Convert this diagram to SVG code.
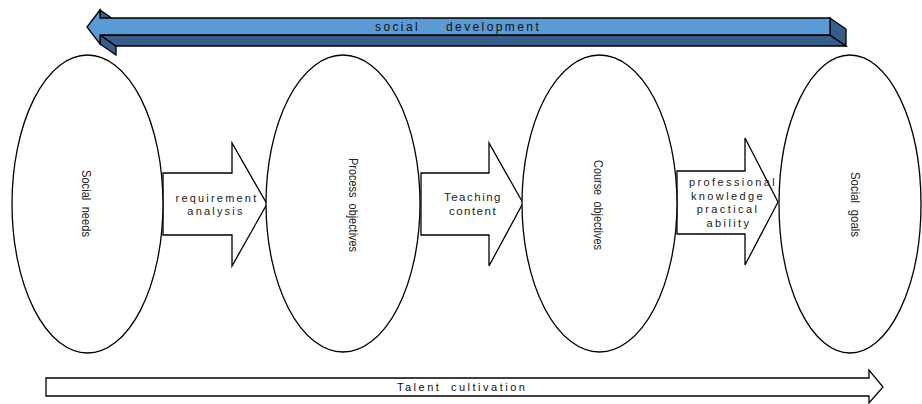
<svg xmlns="http://www.w3.org/2000/svg" width="922" height="404" viewBox="0 0 922 404">
  <style>
    .ln { stroke: #000; stroke-width: 1.3; stroke-linejoin: miter; }
    .front { fill: #5B9BD5; }
    .dark { fill: #385D8A; }
    .node { fill: #fff; stroke: #000; stroke-width: 1.3; }
    .blk { fill: #fff; stroke: #000; stroke-width: 1.3; }
    .lbl { font-family: "Liberation Sans", Arial, sans-serif; font-size: 11px; fill: #222; text-anchor: middle; letter-spacing: 2.2px; }
    .vt { font-family: "Liberation Sans", Arial, sans-serif; font-size: 13.5px; fill: #222; text-anchor: middle; dominant-baseline: central; }
    .band { font-family: "Liberation Sans", Arial, sans-serif; font-size: 12px; fill: #111; letter-spacing: 2.4px; }
  </style>

  <!-- 3D band arrow across the top -->
  <g id="social-development">
    <polygon class="dark ln" points="100,10 100,18 116,29 116,21"/>
    <polygon class="dark ln" points="100,35 100,44 116,55 116,46"/>
    <polygon class="dark ln" points="100,35 830,35 846,46 116,46"/>
    <polygon class="dark ln" points="830,18 846,29 846,46 830,35"/>
    <polygon class="front ln" points="87,27 100,10 100,18 830,18 830,35 100,35 100,44"/>
    <text class="band" y="31"><tspan x="375">social</tspan><tspan x="446">development</tspan></text>
  </g>

  <!-- connectors: block arrows between the stages -->
  <g id="connectors">
    <g id="arrow-requirement">
      <polygon class="blk" points="163,173 232,173 232,143 267,204 232,266 232,235 163,235"/>
      <text class="lbl" x="217" y="201.5">requirement</text>
      <text class="lbl" x="216" y="215">analysis</text>
    </g>
    <g id="arrow-teaching">
      <polygon class="blk" points="421,173 489,173 489,143 523,203 489,266 489,235 421,235"/>
      <text class="lbl" x="473" y="200.5" style="letter-spacing:1.5px;font-size:11.5px">Teaching</text>
      <text class="lbl" x="473" y="215" style="letter-spacing:1.5px;font-size:11.5px">content</text>
    </g>
    <g id="arrow-ability">
      <polygon class="blk" points="677,171 745,171 745,138 778,202 745,265 745,234 677,234"/>
      <text class="lbl" x="733" y="186" style="letter-spacing:2.4px">professional</text>
      <text class="lbl" x="728" y="199.5" style="letter-spacing:2.4px">knowledge</text>
      <text class="lbl" x="728" y="213" style="letter-spacing:2.4px">practical</text>
      <text class="lbl" x="729" y="226.5" style="letter-spacing:2.4px">ability</text>
    </g>
    <g id="arrow-talent">
      <polygon class="blk" points="46,378 869,378 869,370 883,387 869,403 869,396 46,396"/>
      <text class="band" y="391" style="font-size:11px;letter-spacing:2.5px"><tspan x="397">Talent</tspan><tspan x="451">cultivation</tspan></text>
    </g>
  </g>

  <!-- stage nodes -->
  <g id="social-needs">
    <ellipse class="node" cx="87.5" cy="204" rx="75.5" ry="149"/>
    <text class="vt" transform="translate(86,203.5) rotate(90)" textLength="67" lengthAdjust="spacingAndGlyphs" word-spacing="4">Social needs</text>
  </g>
  <g id="process-objectives">
    <ellipse class="node" cx="343" cy="203.5" rx="77" ry="148.5"/>
    <text class="vt" transform="translate(353,205) rotate(90)" textLength="94" lengthAdjust="spacingAndGlyphs" word-spacing="4">Process objectives</text>
  </g>
  <g id="course-objectives">
    <ellipse class="node" cx="599.5" cy="203.5" rx="77.5" ry="148.5"/>
    <text class="vt" transform="translate(598,205) rotate(90)" textLength="90" lengthAdjust="spacingAndGlyphs" word-spacing="4">Course objectives</text>
  </g>
  <g id="social-goals">
    <ellipse class="node" cx="850" cy="204" rx="71" ry="149"/>
    <text class="vt" transform="translate(855,204.5) rotate(90)" textLength="65" lengthAdjust="spacingAndGlyphs" word-spacing="4">Social goals</text>
  </g>
</svg>
